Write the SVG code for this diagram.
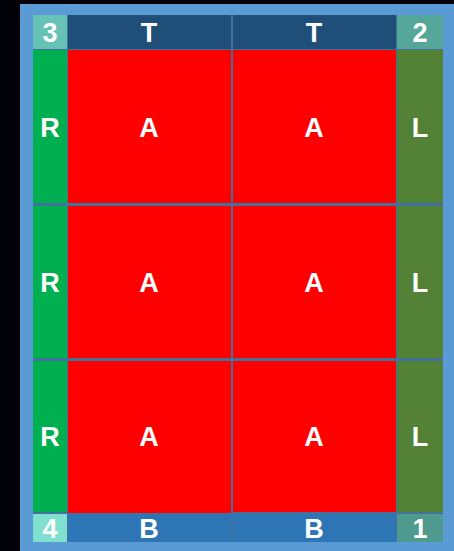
<svg xmlns="http://www.w3.org/2000/svg" width="454" height="551" viewBox="0 0 454 551">
  <style>
    text { font-family: "Liberation Sans", Arial, sans-serif; font-weight: bold; font-size: 27px; fill: #FFFFFF; text-anchor: middle; }
    .top { fill: #1F4E79; }
    .bot { fill: #2E75B6; }
    .red { fill: #FF0000; }
    .rcol { fill: #00B050; }
    .lcol { fill: #538135; }
  </style>
  <rect x="0" y="0" width="454" height="551" fill="#020308"/>
  <rect x="20" y="4" width="434" height="547" fill="#5B9BD5"/>
  <rect x="33" y="15" width="410" height="527" fill="#41719C"/>

  <g id="corner3"><rect x="33" y="15" width="34" height="34" fill="#66C2B4"/><text x="50" y="42">3</text></g>
  <g id="corner2"><rect x="397" y="15" width="46" height="34" fill="#55A899"/><text x="420" y="42">2</text></g>
  <g id="corner4"><rect x="33" y="514" width="34" height="28" fill="#7FE0D0"/><text x="50" y="538">4</text></g>
  <g id="corner1"><rect x="397" y="514" width="46" height="28" fill="#4E9A8E"/><text x="420" y="538">1</text></g>

  <g id="top1"><rect class="top" x="68" y="15" width="163" height="34"/><text x="149" y="42">T</text></g>
  <g id="top2"><rect class="top" x="233" y="15" width="163" height="34"/><text x="314" y="42">T</text></g>
  <g id="bot1"><rect class="bot" x="68" y="514" width="163" height="28"/><text x="149" y="538">B</text></g>
  <g id="bot2"><rect class="bot" x="233" y="514" width="163" height="28"/><text x="314" y="538">B</text></g>

  <g id="r1"><rect class="rcol" x="33" y="50" width="34" height="153"/><text x="50" y="136.5">R</text></g>
  <g id="r2"><rect class="rcol" x="33" y="206" width="34" height="152"/><text x="50" y="292">R</text></g>
  <g id="r3"><rect class="rcol" x="33" y="361" width="34" height="151"/><text x="50" y="446">R</text></g>

  <g id="l1"><rect class="lcol" x="397" y="50" width="46" height="153"/><text x="420" y="136.5">L</text></g>
  <g id="l2"><rect class="lcol" x="397" y="206" width="46" height="152"/><text x="420" y="292">L</text></g>
  <g id="l3"><rect class="lcol" x="397" y="361" width="46" height="151"/><text x="420" y="446">L</text></g>

  <g id="a11"><rect class="red" x="68" y="50" width="163" height="153"/><text x="149" y="136.5">A</text></g>
  <g id="a12"><rect class="red" x="233" y="50" width="163" height="153"/><text x="314" y="136.5">A</text></g>
  <g id="a21"><rect class="red" x="68" y="206" width="163" height="152"/><text x="149" y="292">A</text></g>
  <g id="a22"><rect class="red" x="233" y="206" width="163" height="152"/><text x="314" y="292">A</text></g>
  <g id="a31"><rect class="red" x="68" y="361" width="163" height="152"/><text x="149" y="446">A</text></g>
  <g id="a32"><rect class="red" x="233" y="361" width="163" height="151"/><text x="314" y="446">A</text></g>
</svg>
